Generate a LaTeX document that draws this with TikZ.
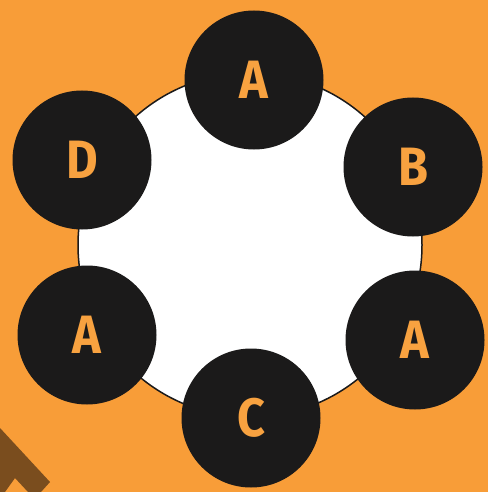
\documentclass[tikz,border=0pt]{standalone}
\usepackage{fontspec}
\setmainfont{Fira Sans}
\usetikzlibrary{positioning}
\definecolor{bgorange}{HTML}{F89D38}
\definecolor{ink}{HTML}{1B1A1A}
\definecolor{letter}{HTML}{F8A240}
\definecolor{bark}{HTML}{7A4D1E}

\begin{document}
\begin{tikzpicture}[
  x=1pt, y=-1pt,
  seat/.style  = {circle, fill=ink, minimum size=139pt, inner sep=0pt,
                  font=\fontsize{54}{54}\selectfont\bfseries, text=letter},
  board/.style = {circle, draw=ink, line width=1.5pt, fill=white,
                  minimum size=344pt, inner sep=0pt},
]

% ── Background ───────────────────────────────────────────────────────────────
\fill[bgorange] (0,0) rectangle (488,492);
\useasboundingbox (0,0) rectangle (488,492);
\fill[bark] (0,428) -- (50,482) -- (41,492) -- (28,492) -- (15,478)
            -- (5,492) -- (0,492) -- cycle;

% ── Round table ──────────────────────────────────────────────────────────────
\node[board] (tbl) at (250,245) {};

% ── Seats ────────────────────────────────────────────────────────────────────
\node[seat] (s1) at (254,80)  {\scalebox{0.9}[1]{A}};
\node[seat] (s2) at (413,167) {\scalebox{0.9}[1]{B}};
\node[seat] (s3) at (415,340) {\scalebox{0.9}[1]{A}};
\node[seat] (s4) at (251,418) {\scalebox{0.9}[1]{C}};
\node[seat] (s5) at (87,335)  {\scalebox{0.9}[1]{A}};
\node[seat] (s6) at (82,160)  {\scalebox{0.9}[1]{D}};

\end{tikzpicture}
\end{document}
